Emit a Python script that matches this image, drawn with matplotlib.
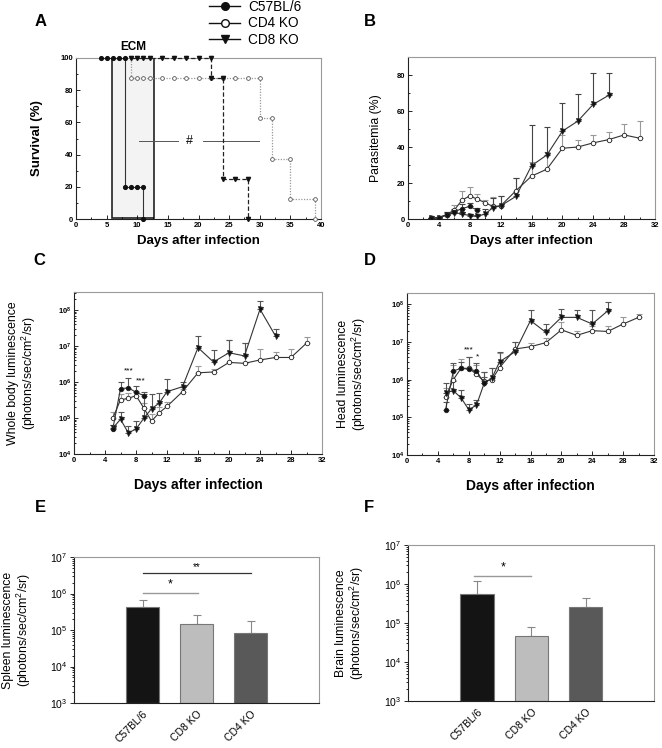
import numpy as np
import matplotlib
matplotlib.use('Agg')
import matplotlib.pyplot as plt
import matplotlib.patches as patches
from matplotlib.lines import Line2D
from matplotlib.ticker import MultipleLocator, LogLocator, FuncFormatter, NullFormatter

plt.rcParams['font.family'] = ['Liberation Sans', 'DejaVu Sans']
plt.rcParams['mathtext.fontset'] = 'custom'
plt.rcParams['mathtext.rm'] = 'Liberation Sans'
plt.rcParams['mathtext.bf'] = 'Liberation Sans:bold'
plt.rcParams['mathtext.it'] = 'Liberation Sans:italic'

# ---- A: survival (step points) ----
surv_c57_days = [4, 5, 6, 7, 8, 8, 9, 10, 11, 11]
surv_c57 = [100, 100, 100, 100, 100, 20, 20, 20, 20, 0]
surv_cd4_days = [9, 9, 10, 11, 12, 14, 16, 18, 20, 22, 24, 26, 28, 30, 30, 32, 32, 35, 35, 39, 39]
surv_cd4 = [100, 87.5, 87.5, 87.5, 87.5, 87.5, 87.5, 87.5, 87.5, 87.5, 87.5, 87.5, 87.5, 87.5,
            62.5, 62.5, 37.5, 37.5, 12.5, 12.5, 0]
surv_cd8_days = [9, 10, 11, 12, 14, 16, 18, 20, 22, 22, 24, 24, 26, 28, 28]
surv_cd8 = [100, 100, 100, 100, 100, 100, 100, 100, 100, 87.5, 87.5, 25, 25, 25, 0]
ecm_start, ecm_end = 5.8, 12.7

# ---- B: parasitemia ----
par_c57_days = [3, 4, 5, 6, 7, 8, 9]
par_c57 = [0.3, 0.8, 2.3, 4.0, 5.8, 7.0, 4.8]
par_c57_err = [0.2, 0.3, 1.5, 1.5, 2.5, 2.0, 1.5]
par_cd4_days = [3, 4, 5, 6, 7, 8, 9, 10, 11, 12, 14, 16, 18, 20, 22, 24, 26, 28, 30]
par_cd4 = [0.3, 0.8, 2.5, 5.0, 10.5, 12.8, 11.0, 9.0, 7.0, 7.3, 15.8, 23.8, 27.7, 39.3, 40.0,
           42.3, 44.1, 46.7, 44.9]
par_cd4_err = [0.3, 0.5, 1.5, 2.8, 5.0, 5.2, 2.7, 1.5, 5.0, 5.3, 7.2, 7.7, 9.5, 7.6, 4.0,
               4.2, 4.3, 6.2, 9.3]
par_cd8_days = [3, 4, 5, 6, 7, 8, 9, 10, 11, 12, 14, 16, 18, 20, 22, 24, 26]
par_cd8 = [0.3, 0.8, 2.0, 3.5, 2.8, 1.9, 1.5, 2.8, 6.3, 7.3, 12.6, 29.6, 35.6, 48.8, 54.4, 63.7, 68.7]
par_cd8_err = [0.3, 0.3, 1.5, 1.5, 1.2, 1.0, 0.8, 3.0, 5.5, 5.5, 10.0, 22.4, 15.6, 15.8, 15.2,
               17.5, 12.5]

# ---- C: whole body luminescence ----
wb_c57_days = [5, 6, 7, 8, 9]
wb_c57 = [4.9e4, 6.5e5, 6.9e5, 5.2e5, 4.2e5]
wb_c57_hi = [6.5e4, 1.0e6, 1.26e6, 7.8e5, 5.2e5]
wb_cd4_days = [5, 6, 7, 8, 9, 10, 11, 12, 14, 16, 18, 20, 22, 24, 26, 28, 30]
wb_cd4 = [9.8e4, 3.2e5, 3.5e5, 4.2e5, 1.9e5, 8.2e4, 1.4e5, 2.1e5, 5.4e5, 1.8e6, 1.9e6, 3.5e6,
          3.3e6, 4.1e6, 4.8e6, 4.8e6, 1.2e7]
wb_cd4_hi = [1.5e5, 4.5e5, 5.0e5, 5.5e5, 2.6e5, 1.3e5, 2.0e5, 2.8e5, 6.5e5, 2.7e6, 2.3e6, 1.45e7,
             1.2e7, 8.3e6, 6.7e6, 8.0e6, 1.8e7]
wb_cd8_days = [5, 6, 7, 8, 9, 10, 11, 12, 14, 16, 18, 20, 22, 24, 26]
wb_cd8 = [5.2e4, 9.2e4, 3.9e4, 4.9e4, 9.8e4, 1.8e5, 2.6e5, 5.4e5, 7.4e5, 9.0e6, 3.6e6, 6.5e6,
          5.3e6, 1.05e8, 1.9e7]
wb_cd8_hi = [6.5e4, 1.5e5, 6.0e4, 8.5e4, 4.5e5, 4.5e5, 5.0e5, 1.2e6, 1.0e6, 1.9e7, 7.5e6, 1.45e7,
             1.2e7, 1.8e8, 3.0e7]

# ---- D: head luminescence ----
hd_c57_days = [5, 6, 7, 8, 9, 10]
hd_c57 = [1.6e5, 1.7e6, 2.0e6, 1.9e6, 1.7e6, 8.0e5]
hd_c57_hi = [2.5e5, 2.8e6, 3.0e6, 4.0e6, 2.8e6, 1.2e6]
hd_cd4_days = [5, 6, 7, 8, 9, 10, 11, 12, 14, 16, 18, 20, 22, 24, 26, 28, 30]
hd_cd4 = [3.5e5, 1.0e6, 2.0e6, 2.0e6, 1.4e6, 9.0e5, 1.0e6, 2.1e6, 6.5e6, 7.5e6, 9.6e6, 2.1e7,
          1.5e7, 2.0e7, 1.9e7, 3.0e7, 4.5e7]
hd_cd4_hi = [6.0e5, 2.5e6, 3.5e6, 4.0e6, 2.5e6, 1.6e6, 2.0e6, 5.0e6, 1.0e7, 9.5e6, 1.3e7, 3.3e7,
             2.0e7, 2.6e7, 2.7e7, 4.5e7, 5.5e7]
hd_cd8_days = [5, 6, 7, 8, 9, 10, 11, 12, 14, 16, 18, 20, 22, 24, 26]
hd_cd8 = [4.5e5, 5.1e5, 3.3e5, 1.6e5, 2.1e5, 8.0e5, 1.1e6, 3.0e6, 5.5e6, 3.7e7, 1.8e7, 4.5e7,
          4.5e7, 3.0e7, 6.7e7]
hd_cd8_hi = [8.0e5, 9.0e5, 5.3e5, 2.3e5, 2.8e5, 1.6e6, 2.0e6, 5.5e6, 1.0e7, 7.0e7, 3.0e7, 7.5e7,
             7.0e7, 7.0e7, 1.15e8]

# ---- E / F: organ luminescence ----
bar_groups = ['C57BL/6', 'CD8 KO', 'CD4 KO']
bar_colors = ['#141414', '#bdbdbd', '#595959']
spleen = [4.4e5, 1.5e5, 8.3e4]
spleen_hi = [6.8e5, 2.5e5, 1.8e5]
brain = [5.4e5, 4.7e4, 2.5e5]
brain_hi = [1.2e6, 8.1e4, 4.3e5]

W, H = 662, 748
fig = plt.figure(figsize=(W / 100, H / 100), dpi=100)


def px_axes(x0, y0, x1, y1):
    return fig.add_axes([x0 / W, 1 - y1 / H, (x1 - x0) / W, (y1 - y0) / H])


def style(ax, fs=5.5, bold=True, direction='in'):
    for s in ['left', 'bottom']:
        ax.spines[s].set_color('#222')
        ax.spines[s].set_linewidth(0.8)
    for s in ['top', 'right']:
        ax.spines[s].set_color('#999')
        ax.spines[s].set_linewidth(0.8)
    ax.tick_params(which='both', direction=direction, top=False, right=False, width=0.6,
                   labelsize=fs, pad=2)
    ax.tick_params(which='major', length=3)
    ax.tick_params(which='minor', length=1.5)
    if bold:
        plt.setp(ax.get_xticklabels() + ax.get_yticklabels(), fontweight='bold')


def log_fmt(bold):
    if bold:
        return FuncFormatter(lambda v, p: r'$\mathbf{10^{%d}}$' % round(np.log10(v)))
    return FuncFormatter(lambda v, p: r'$10^{%d}$' % round(np.log10(v)))


lbl_fs = 9.5
ylbl_fs = 8.8

# ================= A =================
axA = px_axes(76, 58, 321, 219)
axA.add_patch(patches.Rectangle((ecm_start, 0.6), ecm_end - ecm_start, 99.4, facecolor='#f3f3f3',
                                edgecolor='#222', lw=1.2, zorder=1))
axA.plot(surv_cd4_days, surv_cd4, ls=(0, (1, 1.2)), color='#999', lw=0.9, zorder=2)
axA.plot(surv_cd4_days[1:], surv_cd4[1:], ls='none', marker='o', ms=2.7, mfc='white',
         mec='#555', mew=0.6, zorder=3, clip_on=False)
axA.plot(surv_c57_days, surv_c57, color='#333', lw=0.8, marker='o', ms=2.7, mfc='#111',
         mec='#111', zorder=4, clip_on=False)
axA.plot(surv_cd8_days, surv_cd8, color='#222', lw=0.9, ls=(0, (3.5, 1.8)), marker='v', ms=3.0,
         mfc='#111', mec='#111', zorder=5, clip_on=False)
axA.plot([10.3, 16.6], [48.5, 48.5], color='#555', lw=0.7)
axA.plot([20.7, 29.9], [48.5, 48.5], color='#555', lw=0.7)
axA.text(18.6, 48.5, '#', ha='center', va='center', fontsize=9)
axA.text(9.4, 103, 'ECM', ha='center', va='bottom', fontsize=8.5, fontweight='bold', clip_on=False)
axA.set_xlim(0, 40)
axA.set_ylim(0, 100)
axA.xaxis.set_major_locator(MultipleLocator(5))
axA.xaxis.set_minor_locator(MultipleLocator(2.5))
axA.yaxis.set_major_locator(MultipleLocator(20))
axA.yaxis.set_minor_locator(MultipleLocator(10))
style(axA)
axA.set_xlabel('Days after infection', fontsize=lbl_fs, fontweight='bold')
axA.set_ylabel('Survival (%)', fontsize=lbl_fs, fontweight='bold')
axA.xaxis.set_label_coords(0.5, -0.10)
axA.yaxis.set_label_coords(-0.135, 0.5)

leg_handles = [
    Line2D([], [], color='#111', lw=1.0, marker='o', ms=5.5, mfc='#111', mec='#111'),
    Line2D([], [], color='#111', lw=1.0, marker='o', ms=5.5, mfc='white', mec='#111'),
    Line2D([], [], color='#111', lw=1.0, marker='v', ms=6, mfc='#111', mec='#111'),
]
fig.legend(leg_handles, ['C57BL/6', 'CD4 KO', 'CD8 KO'], loc='upper left',
           bbox_to_anchor=(209 / W, 1 - 0.0 / H), frameon=False, fontsize=9.8,
           handlelength=2.3, handletextpad=0.6, labelspacing=0.17, borderpad=0,
           borderaxespad=0)


def line_panel(ax, series):
    for days, vals, hi, marker, mfc, ecol in series:
        vals = np.array(vals)
        err = np.array(hi) - vals
        ax.errorbar(days, vals, yerr=[np.zeros_like(vals), err], fmt='none', ecolor=ecol,
                    elinewidth=0.8, capsize=2.5, capthick=0.8, zorder=2)
    for days, vals, hi, marker, mfc, ecol in series:
        ax.plot(days, vals, color='#333', lw=0.8, marker=marker, ms=3.2 if marker == 'o' else 3.6,
                mfc=mfc, mec='#222', mew=0.6, zorder=3)


# ================= B =================
axB = px_axes(408, 57, 655, 219)
par_series = [
    (par_cd4_days, par_cd4, np.add(par_cd4, par_cd4_err), 'o', 'white', '#999'),
    (par_cd8_days, par_cd8, np.add(par_cd8, par_cd8_err), 'v', '#111', '#444'),
    (par_c57_days, par_c57, np.add(par_c57, par_c57_err), 'o', '#111', '#444'),
]
line_panel(axB, par_series)
axB.set_xlim(0, 32)
axB.set_ylim(0, 90)
axB.xaxis.set_major_locator(MultipleLocator(4))
axB.xaxis.set_minor_locator(MultipleLocator(2))
axB.yaxis.set_major_locator(MultipleLocator(20))
axB.yaxis.set_minor_locator(MultipleLocator(10))
style(axB)
axB.set_xlabel('Days after infection', fontsize=lbl_fs, fontweight='bold')
axB.set_ylabel('Parasitemia (%)', fontsize=ylbl_fs)
axB.xaxis.set_label_coords(0.5, -0.10)
axB.yaxis.set_label_coords(-0.105, 0.5)

# ================= C =================
axC = px_axes(74, 292, 322, 454)
axC.set_yscale('log')
wb_series = [
    (wb_cd4_days, wb_cd4, wb_cd4_hi, 'o', 'white', '#999'),
    (wb_cd8_days, wb_cd8, wb_cd8_hi, 'v', '#111', '#555'),
    (wb_c57_days, wb_c57, wb_c57_hi, 'o', '#111', '#555'),
]
line_panel(axC, wb_series)
axC.text(7.0, 10 ** 6.2, '***', ha='center', va='bottom', fontsize=6)
axC.text(8.6, 10 ** 5.92, '***', ha='center', va='bottom', fontsize=6)
axC.set_xlim(0, 32)
axC.set_ylim(1e4, 10 ** 8.5)

# ================= D =================
axD = px_axes(407, 293, 654, 455)
axD.set_yscale('log')
hd_series = [
    (hd_cd4_days, hd_cd4, hd_cd4_hi, 'o', 'white', '#999'),
    (hd_cd8_days, hd_cd8, hd_cd8_hi, 'v', '#111', '#555'),
    (hd_c57_days, hd_c57, hd_c57_hi, 'o', '#111', '#555'),
]
line_panel(axD, hd_series)
axD.text(8.0, 10 ** 6.7, '***', ha='center', va='bottom', fontsize=6)
axD.text(9.1, 10 ** 6.5, '*', ha='center', va='bottom', fontsize=6)
axD.set_xlim(0, 32)
axD.set_ylim(1e4, 10 ** 8.3)

for ax, ylab, ly in [(axC, 'Whole body luminescence\n(photons/sec/cm$^2$/sr)', -0.145),
                     (axD, 'Head luminescence\n(photons/sec/cm$^2$/sr)', -0.158)]:
    ax.xaxis.set_major_locator(MultipleLocator(4))
    ax.xaxis.set_minor_locator(MultipleLocator(2))
    ax.yaxis.set_major_locator(LogLocator(base=10, numticks=10))
    ax.yaxis.set_minor_locator(LogLocator(base=10, subs=np.arange(2, 10), numticks=20))
    ax.yaxis.set_major_formatter(log_fmt(True))
    ax.yaxis.set_minor_formatter(NullFormatter())
    style(ax)
    ax.set_xlabel('Days after infection', fontsize=lbl_fs + 0.5, fontweight='bold')
    ax.set_ylabel(ylab, fontsize=ylbl_fs, linespacing=1.05)
    ax.xaxis.set_label_coords(0.5, -0.15)
    ax.yaxis.set_label_coords(ly, 0.5)


# ================= E / F =================
def bar_panel(ax, vals, hi, ylab, ly):
    x = np.arange(len(bar_groups))
    ax.set_yscale('log')
    vals = np.array(vals)
    ax.bar(x, vals - 1e3, bottom=1e3, width=0.61, color=bar_colors, edgecolor='#777', lw=0.8,
           zorder=2)
    ax.errorbar(x, vals, yerr=[np.zeros_like(vals), np.array(hi) - vals], fmt='none',
                ecolor='#888', elinewidth=0.8, capsize=3, capthick=0.8, zorder=1)
    ax.set_xlim(-1.27, 3.26)
    ax.set_ylim(1e3, 1e7)
    ax.set_xticks(x)
    ax.set_xticklabels(bar_groups, rotation=45, ha='right', va='top', rotation_mode='anchor',
                       fontsize=7.5)
    ax.yaxis.set_major_locator(LogLocator(base=10, numticks=10))
    ax.yaxis.set_minor_locator(LogLocator(base=10, subs=np.arange(2, 10), numticks=20))
    ax.yaxis.set_major_formatter(log_fmt(False))
    ax.yaxis.set_minor_formatter(NullFormatter())
    style(ax, fs=7.5, bold=False, direction='out')
    ax.tick_params(axis='x', length=0, pad=4)
    ax.set_ylabel(ylab, fontsize=ylbl_fs, linespacing=1.05)
    ax.yaxis.set_label_coords(ly, 0.5)


axE = px_axes(74, 557, 319, 703)
bar_panel(axE, spleen, spleen_hi, 'Spleen luminescence\n(photons/sec/cm$^2$/sr)', -0.167)
axE.plot([0, 2], [10 ** 6.56, 10 ** 6.56], color='#333', lw=0.9)
axE.text(1.0, 10 ** 6.6, '**', ha='center', va='bottom', fontsize=7)
axE.plot([0, 1.02], [10 ** 6.02, 10 ** 6.02], color='#999', lw=1.0)
axE.text(0.5, 10 ** 6.08, '*', ha='center', va='bottom', fontsize=9)

axF = px_axes(408, 545, 654, 701)
bar_panel(axF, brain, brain_hi, 'Brain luminescence\n(photons/sec/cm$^2$/sr)', -0.171)
axF.plot([-0.05, 1.0], [10 ** 6.2, 10 ** 6.2], color='#999', lw=1.0)
axF.text(0.49, 10 ** 6.26, '*', ha='center', va='bottom', fontsize=9)

# panel letters
for letter, x, y in [('A', 41, 21), ('B', 370, 21), ('C', 39, 261), ('D', 370, 261),
                     ('E', 40, 508), ('F', 369, 508)]:
    fig.text(x / W, 1 - y / H, letter, ha='center', va='center', fontsize=12, fontweight='bold')

fig.savefig('out.png', dpi=100)
